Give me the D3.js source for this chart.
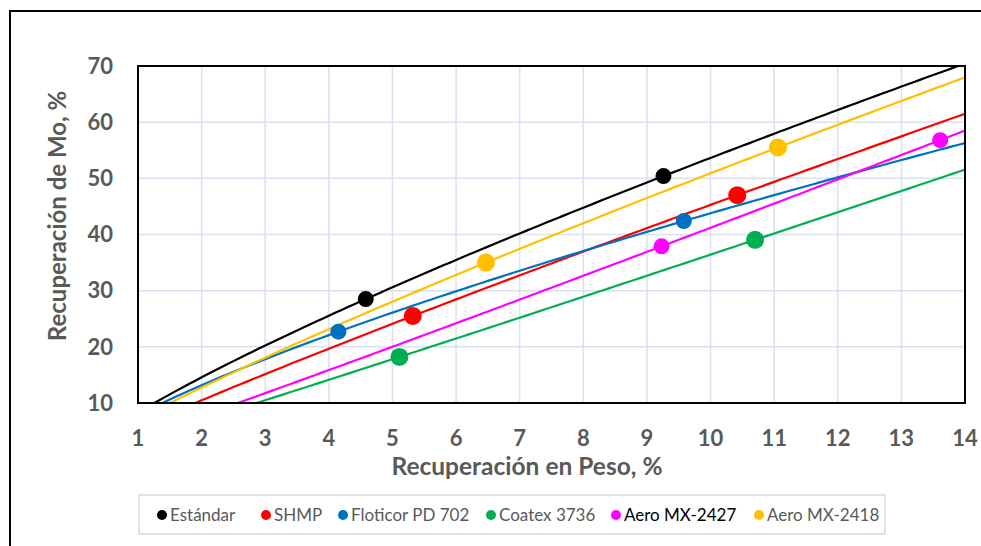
<!DOCTYPE html>
<html>
<meta charset="utf-8">
<style>
  body { margin: 0; background: #fff; }
  text { font-family: Lato, "Open Sans", sans-serif; }
</style>
<script src="https://d3js.org/d3.v7.min.js"></script>
<body>

<script>
var svgWidth = 981, svgHeight = 546;

// series names, colours and marker values
var seriesNames = ["Estándar", "SHMP", "Floticor PD 702", "Coatex 3736", "Aero MX-2427", "Aero MX-2418"];
var seriesColors = ["#000000", "#FF0000", "#0070C0", "#00B050", "#FF00FF", "#FFC000"];
var pesoValues = [
  [4.58, 9.26],
  [5.32, 10.42],
  [4.15, 9.58],
  [5.11, 10.70],
  [9.23, 13.61],
  [6.47, 11.06]
];
var moValues = [
  [28.5, 50.4],
  [25.5, 47.0],
  [22.7, 42.4],
  [18.2, 39.05],
  [37.9, 56.8],
  [35.0, 55.5]
];
var xTicks = [1, 2, 3, 4, 5, 6, 7, 8, 9, 10, 11, 12, 13, 14];
var yTicks = [10, 20, 30, 40, 50, 60, 70];

var margin = { left: 138, top: 66, right: 965, bottom: 403 };
var markerR = [8, 9, 8, 9, 8, 9];
var legendDotX = [162, 266, 343, 491, 616, 759];
var legendTextColor = ["#595959", "#595959", "#595959", "#595959", "#000000", "#595959"];

var svg = d3.select("body")
  .append("svg")
  .attr("width", svgWidth)
  .attr("height", svgHeight);

// outer chart border (right / bottom run off the picture)
svg.append("rect")
  .attr("x", 10).attr("y", 11)
  .attr("width", 1000).attr("height", 600)
  .attr("fill", "none")
  .attr("stroke", "#000")
  .attr("stroke-width", 2);

var x = d3.scaleLinear().domain([1, 14]).range([margin.left, margin.right]);
var y = d3.scaleLinear().domain([10, 70]).range([margin.bottom, margin.top]);

// grid
svg.append("g").selectAll("line")
  .data(xTicks)
  .enter().append("line")
  .attr("x1", function(d) { return x(d); })
  .attr("x2", function(d) { return x(d); })
  .attr("y1", y(10)).attr("y2", y(70))
  .attr("stroke", "#D9E1F2")
  .attr("stroke-width", 1.5);

svg.append("g").selectAll("line")
  .data(yTicks)
  .enter().append("line")
  .attr("y1", function(d) { return y(d); })
  .attr("y2", function(d) { return y(d); })
  .attr("x1", x(1)).attr("x2", x(14))
  .attr("stroke", "#D9E1F2")
  .attr("stroke-width", 1.5);

svg.append("clipPath")
  .attr("id", "clip")
  .append("rect")
  .attr("x", x(1)).attr("y", y(70))
  .attr("width", x(14) - x(1))
  .attr("height", y(10) - y(70));

// power trendline (y = a * x^b) fitted to each series, like Excel does
function powerFit(xs, ys) {
  var lx = xs.map(Math.log), ly = ys.map(Math.log);
  var mx = d3.mean(lx), my = d3.mean(ly);
  var num = d3.sum(lx, function(v, i) { return (v - mx) * (ly[i] - my); });
  var den = d3.sum(lx, function(v) { return (v - mx) * (v - mx); });
  var b = num / den;
  var a = Math.exp(my - b * mx);
  return function(v) { return a * Math.pow(v, b); };
}

var line = d3.line()
  .x(function(d) { return x(d[0]); })
  .y(function(d) { return y(d[1]); });

var trendGroup = svg.append("g").attr("clip-path", "url(#clip)");
var sampleX = d3.range(1, 14.05, 0.1);

seriesNames.forEach(function(name, i) {
  var f = powerFit(pesoValues[i], moValues[i]);
  trendGroup.append("path")
    .datum(sampleX.map(function(v) { return [v, f(v)]; }))
    .attr("d", line)
    .attr("fill", "none")
    .attr("stroke", seriesColors[i])
    .attr("stroke-width", 2.2);
});

seriesNames.forEach(function(name, i) {
  svg.append("g").selectAll("circle")
    .data(pesoValues[i].map(function(v, j) { return [v, moValues[i][j]]; }))
    .enter().append("circle")
    .attr("cx", function(d) { return x(d[0]); })
    .attr("cy", function(d) { return y(d[1]); })
    .attr("r", markerR[i])
    .attr("fill", seriesColors[i]);
});

// plot border
svg.append("rect")
  .attr("x", x(1)).attr("y", y(70))
  .attr("width", x(14) - x(1))
  .attr("height", y(10) - y(70))
  .attr("fill", "none")
  .attr("stroke", "#000")
  .attr("stroke-width", 2);

// tick labels
svg.append("g").selectAll("text")
  .data(xTicks)
  .enter().append("text")
  .attr("x", function(d) { return x(d); })
  .attr("y", 446)
  .attr("text-anchor", "middle")
  .attr("font-size", 22)
  .attr("font-weight", "bold")
  .attr("fill", "#595959")
  .text(function(d) { return d; });

svg.append("g").selectAll("text")
  .data(yTicks)
  .enter().append("text")
  .attr("x", 113)
  .attr("y", function(d) { return y(d); })
  .attr("dy", "0.35em")
  .attr("text-anchor", "end")
  .attr("font-size", 22)
  .attr("font-weight", "bold")
  .attr("fill", "#595959")
  .text(function(d) { return d; });

// axis titles
svg.append("text")
  .attr("x", 527).attr("y", 475)
  .attr("text-anchor", "middle")
  .attr("font-size", 24.5)
  .attr("font-weight", "bold")
  .attr("fill", "#595959")
  .text("Recuperación en Peso, %");

svg.append("text")
  .attr("transform", "translate(66,216) rotate(-90)")
  .attr("text-anchor", "middle")
  .attr("font-size", 24)
  .attr("font-weight", "bold")
  .attr("fill", "#595959")
  .text("Recuperación de Mo, %");

// legend
svg.append("rect")
  .attr("x", 139).attr("y", 495)
  .attr("width", 746).attr("height", 39)
  .attr("fill", "#fff")
  .attr("stroke", "#D9D9D9")
  .attr("stroke-width", 1.5);

var legend = svg.append("g").selectAll("g")
  .data(seriesNames)
  .enter().append("g")
  .attr("transform", function(d, i) { return "translate(" + legendDotX[i] + ",515)"; });

legend.append("circle")
  .attr("r", 5)
  .attr("fill", function(d, i) { return seriesColors[i]; });

legend.append("text")
  .attr("x", 8)
  .attr("dy", "0.35em")
  .attr("font-size", 17)
  .attr("fill", function(d, i) { return legendTextColor[i]; })
  .text(function(d) { return d; });
</script>
</body>
</html>
